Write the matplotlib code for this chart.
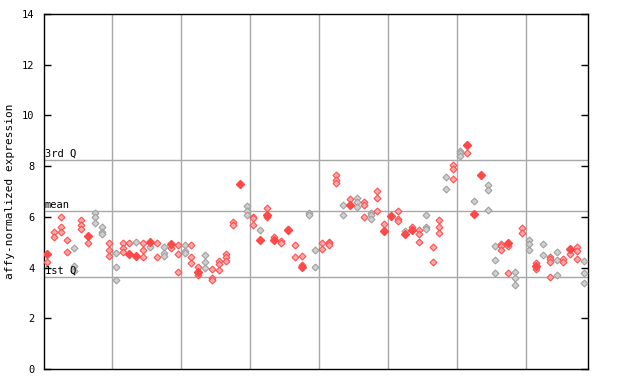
import matplotlib
matplotlib.use('Agg')
import matplotlib.pyplot as plt

# values per sample column (79 columns, 8 groups separated by grid lines)
col_values = [
    [4.53, 4.21], [5.39, 5.22], [5.98, 5.59, 5.41], [5.09, 4.61], [4.76, 4.06, 3.86],
    [5.88, 5.68, 5.51], [5.26, 4.96], [6.14, 5.98, 5.75], [5.59, 5.41, 5.31], [4.96, 4.69, 4.46],
    [4.56, 4.01, 3.51], [4.96, 4.77, 4.60], [4.96, 4.53], [5.00, 4.46], [4.96, 4.69, 4.40],
    [5.00, 4.82], [4.96, 4.40], [4.80, 4.56, 4.47], [4.93, 4.78], [4.88, 4.52, 3.81],
    [4.88, 4.66, 4.56], [4.88, 4.40, 4.17], [4.01, 3.81, 3.69], [4.48, 4.21, 3.97], [3.93, 3.58, 3.50],
    [4.24, 4.15, 3.89], [4.53, 4.40, 4.27], [5.81, 5.68], [7.28], [6.41, 6.24, 6.06],
    [6.01, 5.94, 5.67], [5.48, 5.10], [6.33, 6.07, 6.01], [5.19, 5.10], [5.03, 4.96],
    [5.54, 5.48], [4.88, 4.40], [4.44, 4.10, 4.01], [6.14, 6.07], [4.69, 4.01],
    [4.96, 4.72], [5.02, 4.96, 4.88], [7.65, 7.45, 7.35], [6.47, 6.06], [6.69, 6.48],
    [6.73, 6.57, 6.37], [6.57, 6.45, 5.98], [6.14, 6.06, 5.93], [7.02, 6.73, 6.23], [5.72, 5.45],
    [6.02], [6.22, 5.93, 5.82], [5.45, 5.32], [5.59, 5.48], [5.48, 5.32, 5.00],
    [6.06, 5.61, 5.51], [4.82, 4.21], [5.86, 5.59, 5.35], [7.56, 7.09], [8.05, 7.90, 7.48],
    [8.60, 8.51, 8.41], [8.85, 8.51], [6.61, 6.12], [7.66], [7.26, 7.06, 6.26],
    [4.85, 4.28, 3.77], [4.93, 4.85, 4.68], [4.96, 4.85, 3.77], [3.81, 3.58, 3.30], [5.56, 5.35],
    [5.09, 4.92, 4.68], [4.17, 4.06, 3.93], [4.92, 4.48], [4.43, 4.32, 4.22, 3.61], [4.60, 4.28, 3.69],
    [4.32, 4.22], [4.74, 4.52], [4.81, 4.64, 4.32], [4.25, 3.77, 3.38],
]
# solid (overplotted) points, as (column, value)
solid_points = [(0, 4.53), (6, 5.26), (12, 4.53), (13, 4.46), (15, 5.00), (18, 4.93),
                (22, 3.81), (28, 7.28), (31, 5.10), (32, 6.07), (33, 5.10), (35, 5.48),
                (37, 4.01), (44, 6.48), (49, 5.45), (50, 6.02), (52, 5.32), (53, 5.48),
                (61, 8.85), (62, 6.12), (63, 7.66), (67, 4.96), (71, 4.06), (76, 4.74)]
# columns whose points show up grey
grey_cols = [4, 7, 8, 10, 13, 15, 17, 20, 23, 29, 31, 35, 38, 39, 43, 45, 47,
             52, 55, 58, 60, 62, 64, 65, 68, 70, 72, 74, 78]

group_edges = [9.5, 19.5, 29.5, 39.5, 49.5, 59.5, 69.5]
q_lines = [8.23, 6.22, 3.63]
q_labels = ['3rd Q', 'mean', '1st Q']
y_ticks = [0, 2, 4, 6, 8, 10, 12, 14]

mono = 'DejaVu Sans Mono'
fig = plt.figure(figsize=(6.4, 3.84), dpi=100)
ax = fig.add_axes([44 / 640, 1 - 369 / 384, 543.5 / 640, 355 / 384])

for e in group_edges:
    ax.axvline(e, color='#a8a8a8', lw=1, zorder=1)
for v in q_lines:
    ax.axhline(v, color='#a8a8a8', lw=1, zorder=1)

for i, vals in enumerate(col_values):
    if i in grey_cols:
        face, edge = '#d0d0d0', '#a0a0a0'
    else:
        face, edge = '#ffa8a8', '#ff5050'
    ax.plot([i] * len(vals), vals, linestyle='none', marker='D', ms=3.5,
            mfc=face, mec=edge, mew=0.8, zorder=3)

sx = [p[0] for p in solid_points]
sy = [p[1] for p in solid_points]
ax.plot(sx, sy, linestyle='none', marker='D', ms=3.8, mfc='#ff4848', mec='#ff4848', zorder=4)

for v, lab in zip(q_lines, q_labels):
    ax.text(-0.3, v + 0.05, lab, fontsize=7.5, family=mono, va='bottom', ha='left', zorder=5)

ax.set_xlim(-0.4, 78.5)
ax.set_ylim(0, 14)
ax.set_yticks(y_ticks)
ax.set_yticklabels([str(t) for t in y_ticks], family=mono, fontsize=7.5)
ax.set_xticks([])
ax.tick_params(axis='y', direction='in', length=5, width=1, right=True, pad=7)
for s in ax.spines.values():
    s.set_color('black')
    s.set_linewidth(1)
ax.set_ylabel('affy-normalized expression', family=mono, fontsize=8, labelpad=5)

fig.savefig('out.png', dpi=100)
